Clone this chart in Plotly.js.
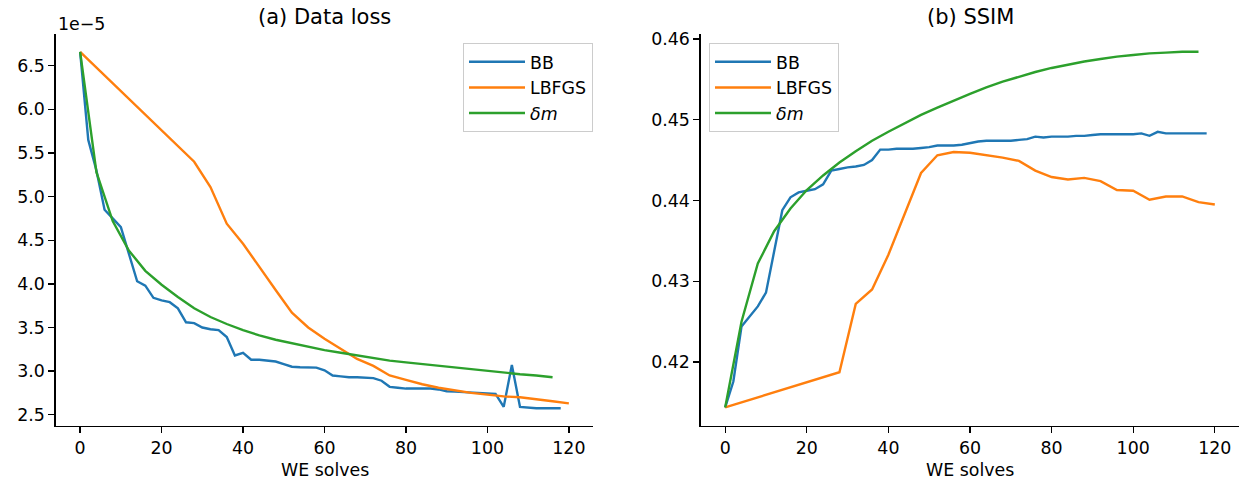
<!DOCTYPE html>
<html>
<head>
<meta charset="utf-8">
<script src="https://cdn.plot.ly/plotly-3.0.1.min.js"></script>
<style>
  html, body { margin: 0; padding: 0; background: #fff; }
  #chart { width: 1253px; height: 487px; }
</style>
</head>
<body>
<div id="chart"></div>
<script>
// Iteration counts (WE solves) for each method
const bbSolves = [0,2,4,6,8,10,12,14,16,18,20,22,24,26,28,30,32,34,36,38,40,42,44,46,48,50,52,54,56,58,
                  60,62,64,66,68,70,72,74,76,78,80,82,84,86,88,90,92,94,96,98,100,102,104,106,108,110,112,114,116,118];
const lbfgsSolves = [0,28,32,36,40,44,48,52,56,60,64,68,72,76,80,84,88,92,96,100,104,108,112,116,120];
const dmSolves = [0,4,8,12,16,20,24,28,32,36,40,44,48,52,56,60,64,68,72,76,80,84,88,92,96,100,104,108,112,116];

// (a) Data loss, in units of 1e-5
const bbLoss = [6.66,5.65,5.30,4.85,4.75,4.65,4.34,4.03,3.98,3.84,3.81,3.79,3.72,3.56,3.55,3.50,3.48,3.47,3.39,3.18,
                3.21,3.13,3.13,3.12,3.11,3.08,3.05,3.045,3.04,3.04,3.01,2.95,2.94,2.93,2.93,2.925,2.92,2.89,2.82,2.81,
                2.80,2.80,2.80,2.80,2.79,2.77,2.765,2.76,2.755,2.75,2.75,2.74,2.59,3.07,2.59,2.58,2.575,2.575,2.575,2.575];
const lbfgsLoss = [6.66,5.40,5.11,4.69,4.46,4.19,3.93,3.67,3.50,3.37,3.25,3.14,3.06,2.95,2.90,2.85,2.81,2.78,2.75,2.73,
                   2.71,2.70,2.68,2.655,2.63];
const dmLoss = [6.66,5.28,4.72,4.38,4.15,3.99,3.85,3.72,3.62,3.54,3.47,3.41,3.36,3.32,3.28,3.24,3.21,3.18,3.15,3.12,
                3.10,3.08,3.06,3.04,3.02,3.00,2.98,2.965,2.95,2.93];

// (b) SSIM
const bbSsim = [0.4144,0.4176,0.4244,0.4256,0.4269,0.4286,0.4337,0.4388,0.4404,0.4410,0.4412,0.4414,0.4420,0.4437,0.4439,
                0.4441,0.4442,0.4444,0.4450,0.4463,0.4463,0.4464,0.4464,0.4464,0.4465,0.4466,0.4468,0.4468,0.4468,0.4469,
                0.4471,0.4473,0.4474,0.4474,0.4474,0.4474,0.4475,0.4476,0.4479,0.4478,0.4479,0.4479,0.4479,0.4480,0.4480,
                0.4481,0.4482,0.4482,0.4482,0.4482,0.4482,0.4483,0.4480,0.4485,0.4483,0.4483,0.4483,0.4483,0.4483,0.4483];
const lbfgsSsim = [0.4144,0.41875,0.4272,0.4290,0.4333,0.4384,0.4434,0.4456,0.4460,0.4459,0.4456,0.4453,0.4449,0.4437,0.4429,
                   0.4426,0.4428,0.4424,0.4413,0.4412,0.4401,0.4405,0.4405,0.4398,0.4395];
const dmSsim = [0.4144,0.4250,0.4322,0.4362,0.4390,0.4413,0.4431,0.4447,0.4461,0.4474,0.4485,0.4496,0.4506,0.4515,0.4524,
                0.4532,0.4540,0.4547,0.4553,0.4559,0.4564,0.4568,0.4572,0.4575,0.4578,0.4580,0.4582,0.4583,0.4584,0.4584];

const seriesNames = ['BB', 'LBFGS', '<i>δm</i>'];
const lossTicks = [2.5, 3.0, 3.5, 4.0, 4.5, 5.0, 5.5, 6.0, 6.5];
const ssimTicks = [0.42, 0.43, 0.44, 0.45, 0.46];
const solveTicks = [0, 20, 40, 60, 80, 100, 120];

const colors = ['#1f77b4', '#ff7f0e', '#2ca02c'];
const FONT = 'DejaVu Sans, Liberation Sans, sans-serif';
const W = 1253, H = 487;

function line(x, y, i, xa, ya, legend) {
  return {
    x: x, y: y, type: 'scatter', mode: 'lines', name: seriesNames[i],
    xaxis: xa, yaxis: ya, legend: legend,
    line: { color: colors[i], width: 2.4 },
    hoverinfo: 'skip'
  };
}

const traces = [
  line(bbSolves, bbLoss, 0, 'x', 'y', 'legend'),
  line(lbfgsSolves, lbfgsLoss, 1, 'x', 'y', 'legend'),
  line(dmSolves, dmLoss, 2, 'x', 'y', 'legend'),
  line(bbSolves, bbSsim, 0, 'x2', 'y2', 'legend2'),
  line(lbfgsSolves, lbfgsSsim, 1, 'x2', 'y2', 'legend2'),
  line(dmSolves, dmSsim, 2, 'x2', 'y2', 'legend2')
];

const tickFont = { family: FONT, size: 17.4, color: '#000' };
function xAxis(domain, anchor) {
  return {
    domain: domain, anchor: anchor, range: [-6, 126],
    tickvals: solveTicks, ticks: 'outside', ticklen: 6, tickwidth: 1.3, tickcolor: '#000',
    showline: true, linecolor: '#000', linewidth: 1.3, mirror: false,
    showgrid: false, zeroline: false, tickfont: tickFont, automargin: false
  };
}
function yAxis(domain, anchor, range, ticks, fmt) {
  return {
    domain: domain, anchor: anchor, range: range,
    tickvals: ticks, tickformat: fmt, ticks: 'outside', ticklen: 6, tickwidth: 1.3, tickcolor: '#000',
    showline: true, linecolor: '#000', linewidth: 1.3, mirror: false,
    showgrid: false, zeroline: false, tickfont: tickFont, automargin: false
  };
}

const yDom = [(H - 426) / H, (H - 34) / H];
const xDomA = [55.7 / W, 593.3 / W];
const xDomB = [700.7 / W, 1239.3 / W];

const legendStyle = (x) => ({
  x: x, y: (H - 43) / H, xanchor: 'left', yanchor: 'top',
  bgcolor: 'rgba(255,255,255,0.8)', bordercolor: '#cccccc', borderwidth: 1,
  font: { family: FONT, size: 17.4, color: '#000' },
  tracegroupgap: 0, itemwidth: 56
});

const layout = {
  width: W, height: H,
  margin: { l: 0, r: 0, t: 0, b: 0 },
  paper_bgcolor: '#fff', plot_bgcolor: '#fff',
  showlegend: true,
  xaxis: xAxis(xDomA, 'y'),
  yaxis: yAxis(yDom, 'x', [2.371, 6.864], lossTicks, '.1f'),
  xaxis2: xAxis(xDomB, 'y2'),
  yaxis2: yAxis(yDom, 'x2', [0.4121, 0.4606], ssimTicks, '.2f'),
  legend: legendStyle(463 / W),
  legend2: legendStyle(709 / W),
  annotations: [
    { text: '(a) Data loss', xref: 'paper', yref: 'paper', x: (55.7 + 593.3) / 2 / W, y: (H - 17) / H,
      xanchor: 'center', yanchor: 'middle', showarrow: false, font: { family: FONT, size: 21, color: '#000' } },
    { text: '(b) SSIM', xref: 'paper', yref: 'paper', x: (700.7 + 1239.3) / 2 / W, y: (H - 17) / H,
      xanchor: 'center', yanchor: 'middle', showarrow: false, font: { family: FONT, size: 21, color: '#000' } },
    { text: 'WE solves', xref: 'paper', yref: 'paper', x: (55.7 + 593.3) / 2 / W, y: (H - 470) / H,
      xanchor: 'center', yanchor: 'middle', showarrow: false, font: tickFont },
    { text: 'WE solves', xref: 'paper', yref: 'paper', x: (700.7 + 1239.3) / 2 / W, y: (H - 470) / H,
      xanchor: 'center', yanchor: 'middle', showarrow: false, font: tickFont },
    { text: '1e\u22125', xref: 'paper', yref: 'paper', x: 55.7 / W, y: (H - 24) / H,
      xanchor: 'left', yanchor: 'middle', showarrow: false, font: tickFont }
  ]
};

Plotly.newPlot('chart', traces, layout, { staticPlot: true, displayModeBar: false });
</script>
</body>
</html>
